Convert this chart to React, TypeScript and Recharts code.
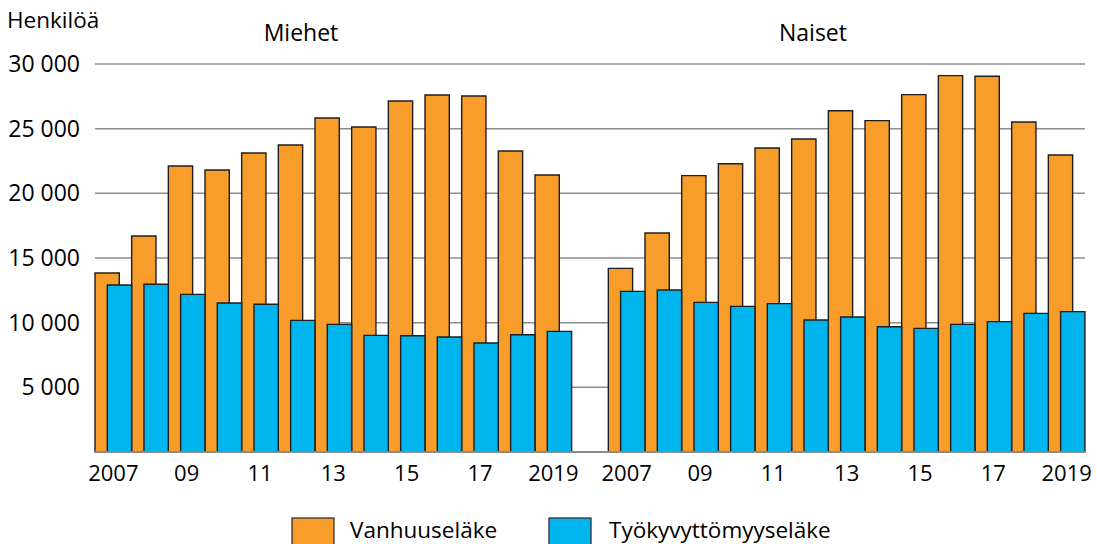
import { BarChart, Bar, XAxis, YAxis, CartesianGrid } from 'recharts';

const YEARS = ['2007', '2008', '2009', '2010', '2011', '2012', '2013', '2014', '2015', '2016', '2017', '2018', '2019'];
const YEAR_TICKS = ['2007', '', '09', '', '11', '', '13', '', '15', '', '17', '', '2019'];

const MEN_OLD_AGE = [13840, 16700, 22110, 21800, 23120, 23740, 25820, 25130, 27140, 27600, 27530, 23270, 21420];
const MEN_DISABILITY = [12910, 12970, 12190, 11520, 11420, 10180, 9870, 9020, 8990, 8890, 8430, 9070, 9330];
const WOMEN_OLD_AGE = [14200, 16930, 21370, 22290, 23510, 24200, 26390, 25620, 27630, 29100, 29050, 25520, 22960];
const WOMEN_DISABILITY = [12420, 12530, 11570, 11260, 11470, 10210, 10440, 9690, 9560, 9870, 10080, 10720, 10850];

const Y_TICKS = [0, 5000, 10000, 15000, 20000, 25000, 30000];

const ORANGE = '#F99D2A';
const BLUE = '#00B5EE';
const SERIES = [
    { key: 'vanhuus', name: 'Vanhuuseläke', color: ORANGE },
    { key: 'tyokyvyttomyys', name: 'Työkyvyttömyyseläke', color: BLUE },
];

// men, one empty slot, women
const data = [
    ...YEARS.map((y, i) => ({ key: 'M' + y, tick: YEAR_TICKS[i], vanhuus: MEN_OLD_AGE[i], tyokyvyttomyys: MEN_DISABILITY[i] })),
    { key: 'gap', tick: '', vanhuus: null, tyokyvyttomyys: null },
    ...YEARS.map((y, i) => ({ key: 'N' + y, tick: YEAR_TICKS[i], vanhuus: WOMEN_OLD_AGE[i], tyokyvyttomyys: WOMEN_DISABILITY[i] })),
];

const fmt = (v: number) => (v === 0 ? '' : `${Math.round(v / 1000)} 000`);

export default function App() {
    return (
        <div style={{ position: 'absolute', left: 0, top: 0, width: 1097, height: 544, fontFamily: '"Open Sans", sans-serif', background: '#fff' }}>
            <BarChart
                width={1097}
                height={544}
                data={data}
                margin={{ top: 64, right: 12, left: 0, bottom: 62 }}
                barSize={24.3}
                barGap={-12}
            >
                <CartesianGrid vertical={false} stroke="#8c8c8c" strokeWidth={1.5} />
                <XAxis
                    dataKey="key"
                    interval={0}
                    tickLine={false}
                    tickSize={0}
                    tickMargin={13}
                    axisLine={{ stroke: '#8a8a8a', strokeWidth: 2 }}
                    tick={{ fill: '#000', fontSize: 22 }}
                    tickFormatter={(_v, i) => data[i]?.tick ?? ''}
                />
                <YAxis
                    width={95}
                    domain={[0, 30000]}
                    ticks={Y_TICKS}
                    axisLine={false}
                    tickLine={false}
                    tickSize={0}
                    tickMargin={15}
                    tick={{ fill: '#000', fontSize: 23 }}
                    tickFormatter={fmt}
                />
                {SERIES.map((s) => (
                    <Bar
                        key={s.key}
                        dataKey={s.key}
                        name={s.name}
                        fill={s.color}
                        stroke="#1e1e1e"
                        strokeWidth={1.4}
                        isAnimationActive={false}
                    />
                ))}
            </BarChart>

            {/* titles + legend */}
            <svg width={1097} height={544} style={{ position: 'absolute', left: 0, top: 0, pointerEvents: 'none' }}>
                <text x={7} y={28} fontSize={22.5} fill="#000">Henkilöä</text>
                <text x={301} y={41} fontSize={23} fill="#000" textAnchor="middle">Miehet</text>
                <text x={813} y={41} fontSize={23} fill="#000" textAnchor="middle">Naiset</text>
                {SERIES.map((s, i) => (
                    <g key={s.key}>
                        <rect x={i === 0 ? 292 : 549} y={518} width={42} height={32} fill={s.color} stroke="#333" strokeWidth={1.3} />
                        <text x={i === 0 ? 350 : 609} y={538} fontSize={22.5} fill="#000">{s.name}</text>
                    </g>
                ))}
            </svg>
        </div>
    );
}
